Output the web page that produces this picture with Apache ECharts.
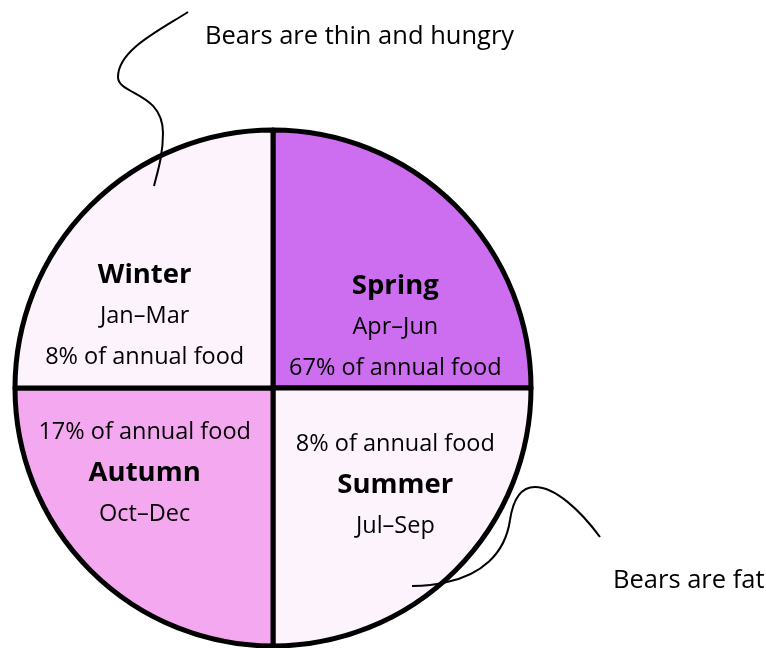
<!DOCTYPE html>
<html>
<head>
<meta charset="utf-8">
<script src="https://cdn.jsdelivr.net/npm/echarts@6/dist/echarts.min.js"></script>
<style>html,body{margin:0;padding:0;background:#fff}#c{width:766px;height:648px}</style>
</head>
<body>
<div id="c"></div>
<script>
// Data (clockwise from 12 o'clock)
var seasons = ['Spring', 'Summer', 'Autumn', 'Winter'];
var monthRanges = ['Apr–Jun', 'Jul–Sep', 'Oct–Dec', 'Jan–Mar'];
var monthsPerSeason = [3, 3, 3, 3];
var foodShare = [67, 8, 17, 8];
var annotations = ['Bears are thin and hungry', 'Bears are fat'];

// Styles
var sliceColors = ['#cd6ef0', '#fcf3fc', '#f4a8ef', '#fcf3fc'];
var foodFirst = [false, true, true, false];
var labelShift = [[29, 33], [29, 4], [-35, -8], [-35, 22]];
var FONT = 'Open Sans';

var chart = echarts.init(document.getElementById('c'));
var data = seasons.map(function (s, i) {
  return { name: s, value: monthsPerSeason[i], itemStyle: { color: sliceColors[i] } };
});

var lineStyle = { stroke: '#000', lineWidth: 2, fill: null };
function curve(x1, y1, c1x, c1y, c2x, c2y, x2, y2) {
  return { type: 'bezierCurve', z: 100, silent: true,
    shape: { x1: x1, y1: y1, cpx1: c1x, cpy1: c1y, cpx2: c2x, cpy2: c2y, x2: x2, y2: y2 },
    style: lineStyle };
}

chart.setOption({
  animation: false,
  series: [{
    type: 'pie',
    center: [273, 388],
    radius: [0, 258],
    startAngle: 90,
    clockwise: true,
    silent: true,
    data: data,
    itemStyle: { borderColor: '#000', borderWidth: 5 },
    labelLine: { show: false },
    label: {
      show: true,
      position: 'inside',
      color: '#000',
      fontFamily: FONT,
      formatter: function (p) {
        var i = p.dataIndex;
        var name = '{b|' + seasons[i] + '}';
        var m = '{r|' + monthRanges[i] + '}';
        var f = '{r|' + foodShare[i] + '% of annual food}';
        return foodFirst[i] ? [f, name, m].join('\n') : [name, m, f].join('\n');
      },
      rich: {
        b: { fontSize: 27.5, fontWeight: 'bold', fontFamily: FONT, color: '#000', lineHeight: 41 },
        r: { fontSize: 23.5, fontFamily: FONT, color: '#000', lineHeight: 41 }
      }
    },
    labelLayout: function (p) {
      var s = labelShift[p.dataIndex];
      return { dx: s[0], dy: s[1] };
    }
  }],
  graphic: [
    curve(188, 12, 160, 30, 118, 50, 118, 77),
    curve(118, 77, 118, 95, 163, 92, 163, 133),
    curve(163, 133, 163, 155, 158, 170, 154, 186),
    { type: 'text', z: 100, x: 205, y: 37, style: { text: annotations[0], fontSize: 25.5, fontFamily: FONT, fill: '#000', verticalAlign: 'middle' } },
    curve(600, 537, 580, 510, 555, 487, 535, 487),
    curve(535, 487, 520, 487, 513, 500, 510, 520),
    curve(510, 520, 505, 555, 480, 575, 447, 582),
    curve(447, 582, 435, 585, 425, 586, 412, 586),
    { type: 'text', z: 100, x: 613, y: 581, style: { text: annotations[1], fontSize: 25.5, fontFamily: FONT, fill: '#000', verticalAlign: 'middle' } }
  ]
});
</script>
</body>
</html>
